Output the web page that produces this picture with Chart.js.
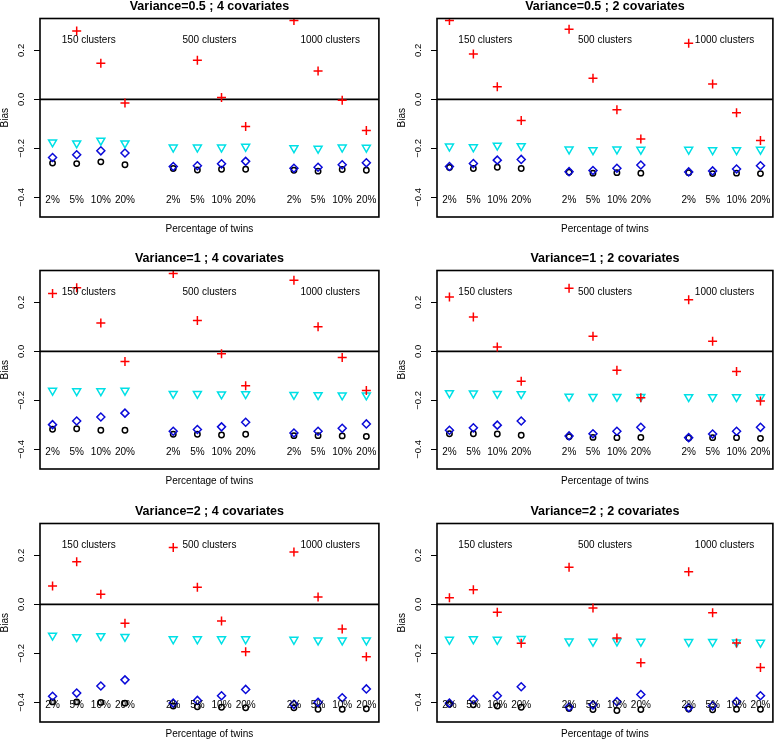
<!DOCTYPE html>
<html><head><meta charset="utf-8">
<script src="https://cdn.jsdelivr.net/npm/chart.js@4"></script>
<style>
html,body{margin:0;padding:0;background:#fff;overflow:hidden;width:779px;height:739px}
#wrap{position:relative;width:779px;height:739px;overflow:hidden;background:#fff}
canvas{position:absolute}
</style></head><body><div id="wrap"></div>
<script>
// ---- categories / labels ----
const xPositions = [1,2,3,4,6,7,8,9,11,12,13,14];
const pctLabels = ['2%','5%','10%','20%','2%','5%','10%','20%','2%','5%','10%','20%'];
const clusterLabels = ['150 clusters','500 clusters','1000 clusters'];
const clusterLabelX = [2.5,7.5,12.5];
const clusterLabelY = 0.24;
const pctLabelY = -0.41;
const yTicks = [-0.4,-0.2,0,0.2];
const yTickLabels = ['\u22120.4','\u22120.2','0.0','0.2'];
const xRange = [0.48,14.52];
const yRange = [-0.48,0.33];
const panelTitles = ['Variance=0.5 ; 4 covariates','Variance=0.5 ; 2 covariates',
  'Variance=1 ; 4 covariates','Variance=1 ; 2 covariates',
  'Variance=2 ; 4 covariates','Variance=2 ; 2 covariates'];
const xAxisTitle = 'Percentage of twins';
const yAxisTitle = 'Bias';

// ---- series values (red +, cyan triangle, blue diamond, black circle) ----
const v05c4_red   = [0.37,0.279,0.147,-0.015, 0.36,0.160,0.008,-0.111, 0.322,0.116,-0.004,-0.127];
const v05c4_cyan  = [-0.175,-0.179,-0.168,-0.179, -0.196,-0.196,-0.196,-0.193, -0.199,-0.201,-0.196,-0.197];
const v05c4_blue  = [-0.237,-0.226,-0.210,-0.219, -0.274,-0.271,-0.263,-0.253, -0.281,-0.277,-0.267,-0.259];
const v05c4_black = [-0.260,-0.262,-0.255,-0.267, -0.282,-0.288,-0.285,-0.285, -0.289,-0.293,-0.286,-0.289];

const v05c2_red   = [0.322,0.185,0.051,-0.086, 0.286,0.086,-0.042,-0.162, 0.229,0.063,-0.055,-0.168];
const v05c2_cyan  = [-0.192,-0.195,-0.188,-0.190, -0.204,-0.207,-0.204,-0.205, -0.205,-0.207,-0.207,-0.205];
const v05c2_blue  = [-0.274,-0.262,-0.248,-0.245, -0.295,-0.290,-0.281,-0.268, -0.296,-0.292,-0.284,-0.271];
const v05c2_black = [-0.278,-0.282,-0.277,-0.282, -0.297,-0.301,-0.299,-0.301, -0.299,-0.303,-0.301,-0.303];

const v1c4_red   = [0.236,0.260,0.116,-0.041, 0.318,0.126,-0.010,-0.140, 0.290,0.100,-0.025,-0.160];
const v1c4_cyan  = [-0.160,-0.162,-0.162,-0.160, -0.173,-0.173,-0.175,-0.174, -0.177,-0.178,-0.179,-0.179];
const v1c4_blue  = [-0.299,-0.284,-0.268,-0.252, -0.326,-0.319,-0.308,-0.289, -0.333,-0.326,-0.314,-0.296];
const v1c4_black = [-0.318,-0.316,-0.322,-0.322, -0.338,-0.338,-0.341,-0.338, -0.344,-0.344,-0.345,-0.347];

const v1c2_red   = [0.222,0.140,0.018,-0.122, 0.258,0.062,-0.077,-0.189, 0.211,0.041,-0.082,-0.203];
const v1c2_cyan  = [-0.170,-0.171,-0.173,-0.174, -0.184,-0.185,-0.185,-0.185, -0.186,-0.186,-0.186,-0.186];
const v1c2_blue  = [-0.322,-0.312,-0.301,-0.284, -0.345,-0.336,-0.326,-0.310, -0.352,-0.337,-0.326,-0.310];
const v1c2_black = [-0.336,-0.336,-0.337,-0.342, -0.348,-0.351,-0.352,-0.351, -0.353,-0.352,-0.352,-0.355];

const v2c4_red   = [0.075,0.174,0.041,-0.077, 0.232,0.070,-0.068,-0.193, 0.214,0.030,-0.101,-0.214];
const v2c4_cyan  = [-0.127,-0.133,-0.129,-0.132, -0.142,-0.142,-0.142,-0.142, -0.144,-0.147,-0.147,-0.147];
const v2c4_blue  = [-0.375,-0.362,-0.333,-0.308, -0.403,-0.392,-0.373,-0.347, -0.408,-0.400,-0.381,-0.345];
const v2c4_black = [-0.398,-0.398,-0.400,-0.403, -0.415,-0.418,-0.420,-0.422, -0.422,-0.428,-0.428,-0.426];

const v2c2_red   = [0.027,0.060,-0.032,-0.159, 0.151,-0.015,-0.137,-0.238, 0.133,-0.034,-0.158,-0.258];
const v2c2_cyan  = [-0.144,-0.142,-0.144,-0.141, -0.151,-0.152,-0.151,-0.152, -0.153,-0.153,-0.155,-0.156];
const v2c2_blue  = [-0.403,-0.388,-0.373,-0.336, -0.419,-0.410,-0.397,-0.368, -0.422,-0.414,-0.397,-0.373];
const v2c2_black = [-0.408,-0.410,-0.415,-0.420, -0.425,-0.429,-0.433,-0.429, -0.427,-0.430,-0.428,-0.428];

const panelSeries = [
  [v05c4_red, v05c4_cyan, v05c4_blue, v05c4_black],
  [v05c2_red, v05c2_cyan, v05c2_blue, v05c2_black],
  [v1c4_red, v1c4_cyan, v1c4_blue, v1c4_black],
  [v1c2_red, v1c2_cyan, v1c2_blue, v1c2_black],
  [v2c4_red, v2c4_cyan, v2c4_blue, v2c4_black],
  [v2c2_red, v2c2_cyan, v2c2_blue, v2c2_black]
];

// ---- layout / style ----
const FONT = '"Liberation Sans", Arial, Helvetica, sans-serif';
Chart.defaults.font.family = FONT;
const colLeft = [0, 397];
const colWidth = [385, 382];
const rowTop = [0, 252, 505];
const canvasH = 237;
const markerStyles = [
  {pointStyle:'cross', radius:4.5, color:'#ff0000', rotation:0},
  {pointStyle:'triangle', radius:4.6, color:'#00e0e6', rotation:180},
  {pointStyle:'rectRot', radius:4, color:'#0a0ad8', rotation:0},
  {pointStyle:'circle', radius:2.7, color:'#000000', rotation:0}
];

const annot = {
  id: 'annot',
  afterDatasetsDraw(chart) {
    const {ctx, chartArea: a, scales: {x, y}} = chart;
    ctx.save();
    ctx.fillStyle = '#000';
    ctx.font = '10px ' + FONT;
    ctx.textAlign = 'center';
    ctx.textBaseline = 'middle';
    clusterLabels.forEach((t, i) => ctx.fillText(t, x.getPixelForValue(clusterLabelX[i]), y.getPixelForValue(clusterLabelY)));
    pctLabels.forEach((t, i) => ctx.fillText(t, x.getPixelForValue(xPositions[i]), y.getPixelForValue(pctLabelY)));
    ctx.lineWidth = 1.6;
    ctx.strokeStyle = '#000';
    ctx.strokeRect(a.left, a.top, a.right - a.left, a.bottom - a.top);
    ctx.restore();
  }
};

const wrap = document.getElementById('wrap');
panelTitles.forEach((title, p) => {
  const col = p % 2, row = Math.floor(p / 2);
  const cv = document.createElement('canvas');
  cv.width = colWidth[col]; cv.height = canvasH;
  cv.style.left = colLeft[col] + 'px'; cv.style.top = rowTop[row] + 'px';
  cv.style.width = colWidth[col] + 'px'; cv.style.height = canvasH + 'px';
  wrap.appendChild(cv);
  const datasets = panelSeries[p].map((vals, s) => ({
    data: vals.map((v, i) => ({x: xPositions[i], y: v})),
    pointStyle: markerStyles[s].pointStyle,
    pointRadius: markerStyles[s].radius,
    pointRotation: markerStyles[s].rotation,
    pointBorderColor: markerStyles[s].color,
    pointBackgroundColor: 'rgba(0,0,0,0)',
    pointBorderWidth: 1.5,
    borderColor: markerStyles[s].color,
    showLine: false
  }));
  datasets.push({
    data: [{x: xRange[0], y: 0}, {x: xRange[1], y: 0}],
    showLine: true, borderColor: '#000', borderWidth: 1.6, pointRadius: 0
  });
  new Chart(cv, {
    type: 'scatter',
    data: {datasets},
    options: {
      responsive: false, animation: false, devicePixelRatio: 1, events: [],
      layout: {padding: {left: 0, right: 2, top: 0, bottom: 0}},
      plugins: {
        legend: {display: false}, tooltip: {enabled: false},
        title: {display: true, text: title, fullSize: false, color: '#000',
          font: {family: FONT, size: 12.5, weight: 'bold', lineHeight: 1},
          padding: {top: 0, bottom: 6}}
      },
      scales: {
        x: {
          type: 'linear', min: xRange[0], max: xRange[1],
          ticks: {display: false}, grid: {display: false}, border: {display: false},
          title: {display: true, text: xAxisTitle, color: '#000',
            font: {family: FONT, size: 10, lineHeight: 1}, padding: {top: 0, bottom: 3}},
          afterFit(s) { s.height = 20; }
        },
        y: {
          type: 'linear', min: yRange[0], max: yRange[1],
          afterBuildTicks(s) { s.ticks = yTicks.map(v => ({value: v})); },
          ticks: {
            callback: (v) => yTickLabels[yTicks.indexOf(v)],
            minRotation: 90, maxRotation: 90, crossAlign: 'center', padding: 3.5,
            color: '#000', font: {family: FONT, size: 9.5}
          },
          grid: {drawOnChartArea: false, drawTicks: true, tickLength: 6, color: '#000', lineWidth: 1},
          border: {display: false},
          title: {display: true, text: yAxisTitle, color: '#000',
            font: {family: FONT, size: 10, lineHeight: 1}, padding: {top: 0, bottom: 0}},
          afterFit(s) { s.width = 40; }
        }
      }
    },
    plugins: [annot]
  });
});
</script></body></html>
